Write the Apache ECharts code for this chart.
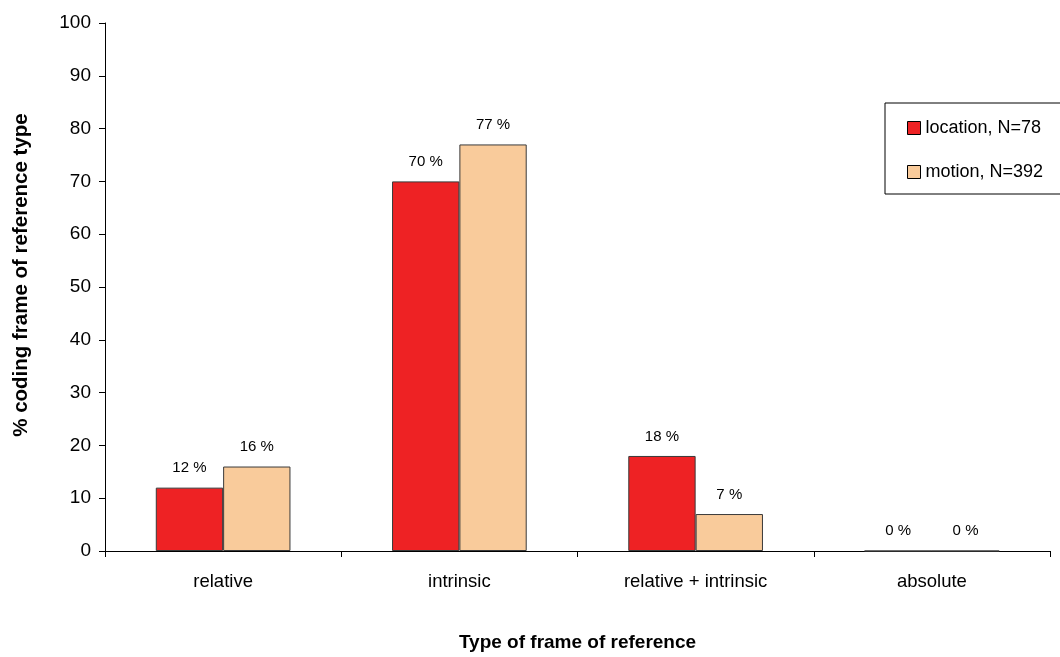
<!DOCTYPE html>
<html>
<head>
<meta charset="utf-8">
<script src="https://cdn.jsdelivr.net/npm/echarts@6/dist/echarts.min.js"></script>
<style>
  html, body { margin: 0; padding: 0; background: #fff; }
  #chart { width: 1060px; height: 657px; }
</style>
</head>
<body>
<div id="chart"></div>
<script>
const categories = ['relative', 'intrinsic', 'relative + intrinsic', 'absolute'];
const locationValues = [12, 70, 18, 0];
const motionValues = [16, 77, 7, 0];
const seriesNames = ['location, N=78', 'motion, N=392'];

const chart = echarts.init(document.getElementById('chart'));
const font = 'Liberation Sans, Arial, sans-serif';

const barLabel = {
  show: true,
  position: 'top',
  distance: 12,
  formatter: '{c} %',
  color: '#000',
  fontSize: 15,
  fontFamily: font
};

chart.setOption({
  animation: false,
  textStyle: { fontFamily: font, color: '#000' },
  grid: { left: 105, right: 10, top: 23, bottom: 101 },
  legend: {
    orient: 'vertical',
    left: 885,
    top: 103,
    padding: [15, 20, 12, 22],
    itemGap: 24,
    itemWidth: 13,
    itemHeight: 13,
    borderColor: '#000',
    borderWidth: 1,
    icon: 'rect',
    itemStyle: { borderColor: '#000', borderWidth: 1 },
    textStyle: { fontSize: 18, lineHeight: 20, color: '#000', fontFamily: font },
    data: seriesNames
  },
  xAxis: {
    type: 'category',
    data: categories,
    name: 'Type of frame of reference',
    nameLocation: 'middle',
    nameGap: 82,
    nameTextStyle: { fontSize: 19, fontWeight: 'bold', color: '#000' },
    axisLine: { lineStyle: { color: '#000', width: 1 } },
    axisTick: { show: true, length: 6, lineStyle: { color: '#000' } },
    axisLabel: { fontSize: 18.5, color: '#000', margin: 21 }
  },
  yAxis: {
    type: 'value',
    min: 0,
    max: 100,
    interval: 10,
    name: '% coding frame of reference type',
    nameLocation: 'middle',
    nameGap: 73,
    // shift the title a bit upwards, as in the original
    nameTextStyle: { fontSize: 20.5, fontWeight: 'bold', color: '#000', padding: [0, 0, 0, 24] },
    splitLine: { show: false },
    axisLine: { show: true, lineStyle: { color: '#000', width: 1 } },
    axisTick: { show: true, length: 6, lineStyle: { color: '#000' } },
    axisLabel: { fontSize: 19, color: '#000', margin: 14 }
  },
  series: [
    {
      name: seriesNames[0],
      type: 'bar',
      data: locationValues,
      barGap: '0%',
      barCategoryGap: '43%',
      itemStyle: { color: '#EE2224', borderColor: '#3a3a3a', borderWidth: 1 },
      label: barLabel
    },
    {
      name: seriesNames[1],
      type: 'bar',
      data: motionValues,
      itemStyle: { color: '#F9CB9B', borderColor: '#3a3a3a', borderWidth: 1 },
      label: barLabel
    }
  ]
});
</script>
</body>
</html>
